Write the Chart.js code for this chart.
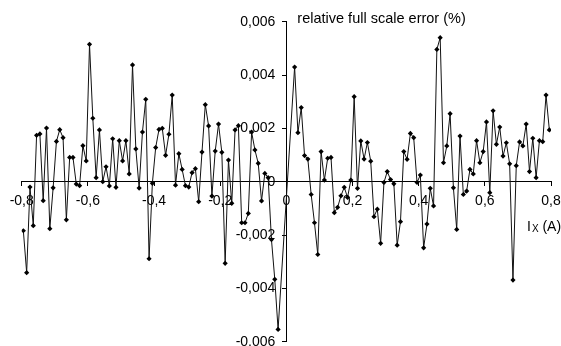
<!DOCTYPE html>
<html>
<head>
<meta charset="utf-8">
<script src="https://cdn.jsdelivr.net/npm/chart.js@4.4.0/dist/chart.umd.min.js"></script>
<style>
  html, body { margin: 0; padding: 0; background: #fff; }
</style>
</head>
<body>
<canvas id="errChart" width="561" height="346"></canvas>
<script>
// relative full scale error (one value per 0.01 A step, null = no point)
const errors = [
  -0.00184, -0.00341, -0.00020, -0.00165, 0.00174, 0.00179, -0.00071, 0.00201, -0.00176, -0.00023,
  0.00151, 0.00195, 0.00165, -0.00143, 0.00091, 0.00091, -0.00009, -0.00015, 0.00135, 0.00078,
  0.00515, 0.00238, 0.00015, 0.00194, 0.00000, 0.00056, -0.00016, 0.00161, -0.00021, 0.00154,
  0.00078, 0.00154, 0.00029, 0.00438, 0.00123, -0.00024, 0.00186, 0.00309, -0.00289, -0.00006,
  0.00128, 0.00196, 0.00200, 0.00099, 0.00178, 0.00325, -0.00013, 0.00105, 0.00046, -0.00015,
  -0.00020, 0.00034, 0.00049, -0.00075, 0.00111, 0.00289, 0.00209, -0.00054, 0.00115, 0.00216,
  0.00110, -0.00306, 0.00081, -0.00081, 0.00194, 0.00210, -0.00154, -0.00154, -0.00119, 0.00186,
  0.00119, 0.00069, -0.00072, 0.00031, 0.00015, -0.00217, -0.00366, -0.00554, null, null,
  null, null, 0.00430, 0.00184, 0.00278, 0.00098, 0.00085, -0.00048, -0.00154, -0.00273,
  0.00113, 0.00006, 0.00088, 0.00091, -0.00116, -0.00096, -0.00053, -0.00021, -0.00059, 0.00006,
  0.00319, -0.00025, 0.00153, 0.00085, 0.00147, 0.00077, -0.00131, -0.00103, -0.00231, -0.00003,
  0.00038, 0.00008, -0.00008, -0.00238, -0.00150, 0.00113, 0.00084, 0.00181, 0.00165, -0.00003,
  0.00025, -0.00248, -0.00159, -0.00025, -0.00091, 0.00496, 0.00540, 0.00071, 0.00134, 0.00255,
  -0.00023, -0.00179, 0.00171, -0.00048, -0.00035, 0.00046, 0.00029, 0.00154, 0.00071, 0.00113,
  0.00224, -0.00041, 0.00266, 0.00140, 0.00205, 0.00096, 0.00146, 0.00067, -0.00369, 0.00060,
  0.00149, 0.00134, 0.00216, 0.00038, 0.00163, 0.00015, 0.00154, 0.00150, 0.00325, 0.00194
];
const firstCurrent = -0.795;
const currentStep = 0.01;
const currents = errors.map((_, i) => +(firstCurrent + i * currentStep).toFixed(3));

const yTitle = "relative full scale error (%)";
const fontFamily = '"Liberation Sans", Arial, sans-serif';

function commaTick(digits) {
  return v => (Math.abs(v) < 1e-9 ? "0" : v.toFixed(digits).replace(".", ","));
}

function noPad(scale) {
  scale.paddingLeft = 0;
  scale.paddingRight = 0;
  scale.paddingTop = 0;
  scale.paddingBottom = 0;
}

// y labels of an axis placed at x = 0 sit flush on the line, push them left
const yLabelShift = {
  id: "yLabelShift",
  beforeDraw(chart) {
    chart.scales.y.getLabelItems().forEach(item => {
      if (!item.shifted) {
        item.options.translation[0] -= 11;
        item.shifted = true;
      }
    });
  }
};

// axis captions drawn next to the crossing axes
const axisText = {
  id: "axisText",
  afterDraw(chart) {
    const { ctx, scales: { x, y } } = chart;
    ctx.save();
    ctx.fillStyle = "#000";
    ctx.textBaseline = "middle";
    ctx.font = "14.5px " + fontFamily;
    ctx.fillText(yTitle, x.getPixelForValue(0) + 11, 19);

    let px = x.getPixelForValue(0.8) - 24;
    const py = y.getPixelForValue(0) + 45;
    ctx.font = "14px " + fontFamily;
    ctx.fillText("I", px, py);
    px += ctx.measureText("I").width + 1;
    ctx.font = "10px " + fontFamily;
    ctx.fillText("X", px, py + 3);
    px += ctx.measureText("X").width;
    ctx.font = "14px " + fontFamily;
    ctx.fillText(" (A)", px, py);
    ctx.restore();
  }
};

const ctx = document.getElementById("errChart").getContext("2d");

new Chart(ctx, {
  type: "line",
  data: {
    labels: currents,
    datasets: [
      {
        data: errors.map((e, i) => ({ x: currents[i], y: e })),
        borderColor: "#111",
        borderWidth: 1,
        pointStyle: "rectRot",
        pointRadius: 2.6,
        pointBackgroundColor: "#000",
        pointBorderWidth: 0,
        spanGaps: true,
        tension: 0,
      },
    ],
  },
  options: {
    responsive: false,
    animation: false,
    layout: { padding: { left: 21.7, right: 10, top: 21.7, bottom: 4.3 } },
    plugins: {
      legend: { display: false },
      tooltip: { enabled: false },
    },
    scales: {
      x: {
        type: "linear",
        min: -0.8,
        max: 0.8,
        position: { y: 0 },
        afterFit: noPad,
        border: { display: true, color: "#000", width: 1 },
        grid: { drawOnChartArea: false, drawTicks: true, tickLength: 4, color: "#000" },
        ticks: {
          stepSize: 0.2,
          autoSkip: false,
          maxRotation: 0,
          padding: 7,
          color: "#000",
          font: { family: fontFamily, size: 14 },
          callback: commaTick(1),
        },
      },
      y: {
        type: "linear",
        min: -0.006,
        max: 0.006,
        position: { x: 0 },
        afterFit: noPad,
        border: { display: true, color: "#000", width: 1 },
        grid: { drawOnChartArea: false, drawTicks: true, tickLength: 4, color: "#000" },
        ticks: {
          stepSize: 0.002,
          autoSkip: false,
          color: "#000",
          font: { family: fontFamily, size: 14 },
          callback: commaTick(3),
        },
      },
    },
  },
  plugins: [yLabelShift, axisText],
});
</script>
</body>
</html>
